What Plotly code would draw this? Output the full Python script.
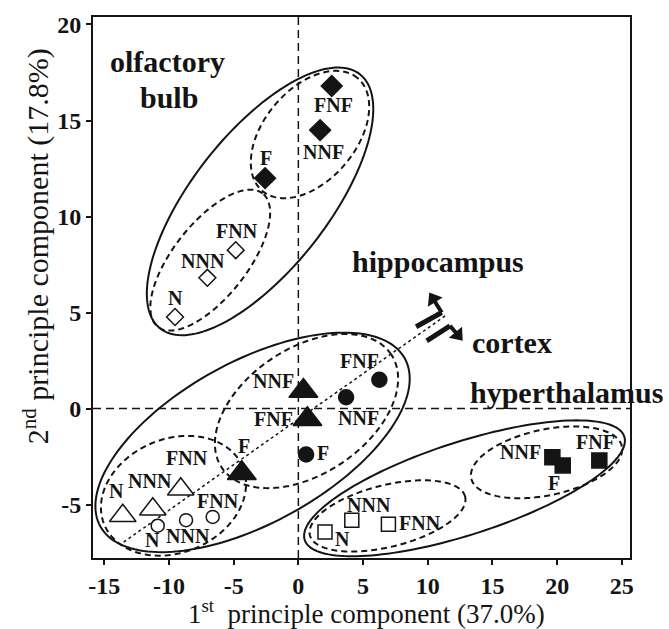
import numpy as np
import plotly.graph_objects as go

# ---------------- data ----------------
labels = ["N", "NNN", "FNN", "F", "NNF", "FNF"]
filled = [False, False, False, True, True, True]

# olfactory bulb (diamonds)
ob_x = [-9.53, -7.03, -4.84, -2.57, 1.68, 2.58]
ob_y = [4.77, 6.81, 8.25, 12.0, 14.5, 16.8]
# hippocampus (triangles)
hc_x = [-13.57, -11.25, -9.09, -4.37, 0.39, 0.70]
hc_y = [-5.58, -5.24, -4.20, -3.37, 0.92, -0.55]
# cortex (circles)
cx_x = [-10.87, -8.68, -6.62, 0.60, 3.69, 6.26]
cx_y = [-6.10, -5.81, -5.64, -2.39, 0.59, 1.50]
# hyperthalamus (squares)
ht_x = [2.06, 4.13, 6.96, 20.43, 19.63, 23.26]
ht_y = [-6.42, -5.81, -6.02, -2.96, -2.53, -2.70]

x_ticks = [-15, -10, -5, 0, 5, 10, 15, 20, 25]
x_tick_labels = ["-15", "-10", "-5", "0", "5", "10", "15", "20", "25"]
y_ticks = [-5, 0, 5, 10, 15, 20]
y_tick_labels = ["-5", "0", "5", "10", "15", "20"]

x_title = "1<sup>st</sup>  principle component (37.0%)"
y_title = "2<sup>nd</sup> principle component (17.8%)"

# ---------------- layout constants ----------------
W, H = 669, 629
ML, MR, MT, MB = 93, 39, 15, 71
XR = [-15.87, 25.63]
YR = [-7.78, 20.39]
PX_X = (W - ML - MR) / (XR[1] - XR[0])
PX_Y = (H - MT - MB) / (YR[1] - YR[0])
SERIF = "Liberation Serif, Times New Roman, serif"
INK = "#141414"

# label offsets (px, right / down) for each point label
ob_off = [(0, -19), (-4, -17), (1, -19), (1, -20), (3, 22), (2, 19)]
hc_off = [(-6, -25), (-3, -28), (6, -31), (2, -27), (-30, -10), (-34, 0)]
cx_off = [(-5, 14), (2, 16), (5, -16), (17, -1), (12, 21), (-20, -19)]
ht_off = [(17, 7), (17, -15), (32, -1), (-9, 18), (-32, -5), (-4, -18)]

# ellipses: centre (data), semi-axes (px), angle (deg), dashed?
ellipses = [
    (-2.96, 10.79, 162, 68, 52, False),
    (0.90, 14.27, 74, 46, 50, True),
    (-6.81, 7.73, 85, 37, 52, True),
    (-3.54, -1.76, 174, 81, 29, False),
    (0.63, -0.13, 102, 63, 34, True),
    (-9.65, -4.54, 75, 57, 23, True),
    (12.84, -4.15, 168, 46.5, 18, False),
    (6.89, -5.59, 80, 31, 14, True),
    (19.18, -2.80, 77, 33, 12, True),
]

trend_start = (-13.5, -6.95)
trend_end = (11.4, 4.85)
# bent arrows: bar start, bar end(corner), arrow tip
arrow_hip = [(9.10, 4.26), (11.08, 5.00), (10.12, 6.04)]
arrow_cor = [(9.92, 3.53), (11.72, 4.31), (12.70, 3.53)]
HEAD_SIZE = 15

groups = [
    ("olfactory", -10.11, 18.09),
    ("bulb", -9.99, 16.22),
    ("hippocampus", 10.80, 7.65),
    ("cortex", 16.48, 3.45),
    ("hyperthalamus", 20.69, 0.86),
]


def ellipse_path(cx, cy, a, b, ang, n=160):
    t = np.linspace(0, 2 * np.pi, n, endpoint=False)
    th = np.radians(ang)
    dxp = a * np.cos(t) * np.cos(th) - b * np.sin(t) * np.sin(th)
    dyp = a * np.cos(t) * np.sin(th) + b * np.sin(t) * np.cos(th)
    xs = cx + dxp / PX_X
    ys = cy + dyp / PX_Y
    pts = [f"{x:.4f},{y:.4f}" for x, y in zip(xs, ys)]
    return "M " + " L ".join(pts) + " Z"


fig = go.Figure()

shapes = []
for (ecx, ecy, a, b, ang, dashed) in ellipses:
    shapes.append(dict(type="path", path=ellipse_path(ecx, ecy, a, b, ang),
                       xref="x", yref="y", layer="below",
                       line=dict(color=INK, width=2,
                                 dash="6px,4px" if dashed else "solid")))
# reference zero lines
shapes.append(dict(type="line", xref="x", yref="paper", x0=0, x1=0, y0=0, y1=1,
                   layer="below", line=dict(color=INK, width=1.5, dash="8px,5px")))
shapes.append(dict(type="line", xref="paper", yref="y", x0=0, x1=1, y0=0, y1=0,
                   layer="below", line=dict(color=INK, width=1.5, dash="8px,5px")))
# dotted trend line
shapes.append(dict(type="line", xref="x", yref="y",
                   x0=trend_start[0], y0=trend_start[1], x1=trend_end[0], y1=trend_end[1],
                   layer="below", line=dict(color=INK, width=1.5, dash="dot")))

# bent arrows: thick bar, bent shaft, triangular head (rotated marker)
head_x, head_y, head_ang = [], [], []
for arr in (arrow_hip, arrow_cor):
    (x0, y0), (x1, y1), (xt, yt) = arr
    shapes.append(dict(type="line", xref="x", yref="y", x0=x0, y0=y0, x1=x1, y1=y1,
                       line=dict(color=INK, width=5)))
    dxp = (xt - x1) * PX_X
    dyp = (yt - y1) * PX_Y
    L = np.hypot(dxp, dyp)
    back = HEAD_SIZE / 2.0
    hx = xt - dxp / L * back / PX_X
    hy = yt - dyp / L * back / PX_Y
    shapes.append(dict(type="line", xref="x", yref="y", x0=x1, y0=y1, x1=hx, y1=hy,
                       line=dict(color=INK, width=4)))
    head_x.append(hx)
    head_y.append(hy)
    head_ang.append(float(np.degrees(np.arctan2(dxp, dyp))))

fig.add_trace(go.Scatter(
    x=head_x, y=head_y, mode="markers", showlegend=False, hoverinfo="skip",
    marker=dict(symbol="triangle-up", size=HEAD_SIZE, color=INK, angle=head_ang,
                line=dict(width=0))))


def add_group(xs, ys, sym, size_f, size_o):
    colors = [INK if f else "white" for f in filled]
    sizes = [size_f if f else size_o for f in filled]
    fig.add_trace(go.Scatter(
        x=xs, y=ys, mode="markers", showlegend=False, hoverinfo="skip",
        marker=dict(symbol=sym, size=sizes, color=colors, opacity=1,
                    line=dict(color=INK, width=1.5))))


add_group(ob_x, ob_y, "diamond", 16, 13)
add_group(hc_x, hc_y, "triangle-up", 25, 23)
add_group(cx_x, cx_y, "circle", 15, 13)
add_group(ht_x, ht_y, "square", 15, 14)

annotations = []
for xs, ys, offs in ((ob_x, ob_y, ob_off), (hc_x, hc_y, hc_off),
                     (cx_x, cx_y, cx_off), (ht_x, ht_y, ht_off)):
    for lab, x, y, (dx, dy) in zip(labels, xs, ys, offs):
        annotations.append(dict(x=x, y=y, xref="x", yref="y", text=lab,
                                showarrow=False, xanchor="center", yanchor="middle",
                                xshift=dx, yshift=-dy,
                                font=dict(family=SERIF, size=20, color=INK,
                                          weight="bold")))

for txt, gx, gy in groups:
    annotations.append(dict(x=gx, y=gy, xref="x", yref="y", text=txt,
                            showarrow=False, xanchor="center", yanchor="middle",
                            font=dict(family=SERIF, size=30, color=INK,
                                      weight="bold")))

# axis titles
annotations.append(dict(x=(366 - ML) / (W - ML - MR), y=(558 - 612) / (H - MT - MB),
                        xref="paper", yref="paper", text=x_title, showarrow=False,
                        xanchor="center", yanchor="middle",
                        font=dict(family=SERIF, size=27, color=INK)))
annotations.append(dict(x=(36 - ML) / (W - ML - MR), y=(558 - 245) / (H - MT - MB),
                        xref="paper", yref="paper", text=y_title, showarrow=False,
                        textangle=-90, xanchor="center", yanchor="middle",
                        font=dict(family=SERIF, size=30, color=INK)))

axis_common = dict(showgrid=False, zeroline=False, showline=True, linecolor=INK,
                   linewidth=2, mirror=True, ticks="outside", ticklen=5,
                   tickwidth=1.5, tickcolor=INK,
                   tickfont=dict(family=SERIF, size=24, color=INK, weight="bold"))

fig.update_layout(
    width=W, height=H, autosize=False,
    margin=dict(l=ML, r=MR, t=MT, b=MB, pad=0),
    paper_bgcolor="white", plot_bgcolor="white",
    xaxis=dict(range=XR, tickmode="array", tickvals=x_ticks, ticktext=x_tick_labels,
               **axis_common),
    yaxis=dict(range=YR, tickmode="array", tickvals=y_ticks, ticktext=y_tick_labels,
               **axis_common),
    shapes=shapes, annotations=annotations, showlegend=False,
)

fig.write_html("out.html")
